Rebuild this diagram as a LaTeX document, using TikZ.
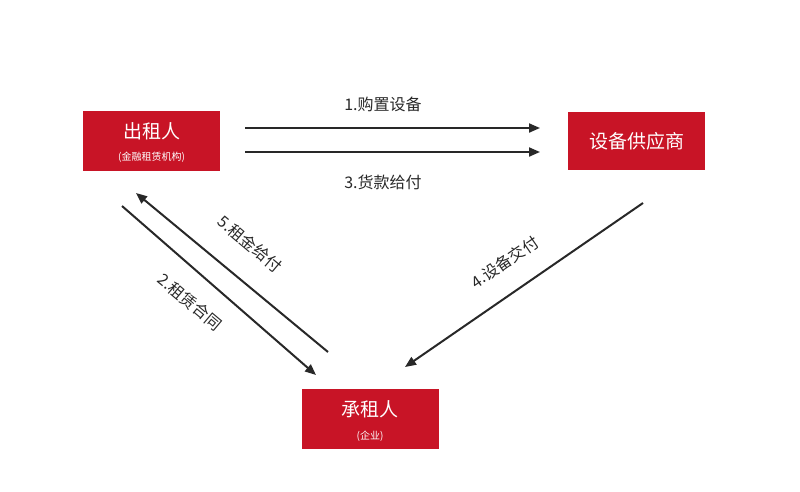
\documentclass[tikz,border=0pt]{standalone}
\usepackage{fontspec}
\setmainfont{Noto Sans CJK SC}
\usetikzlibrary{arrows.meta}
\definecolor{boxred}{RGB}{200,20,38}
\definecolor{lin}{RGB}{40,40,40}
\tikzset{
  redbox/.style={fill=boxred,draw=none,minimum width=137pt,minimum height=60pt,inner sep=0pt},
  conn/.style={draw=lin,line width=2pt,-{Triangle[length=11pt,width=9pt]}},
  lbl/.style={font=\fontsize{16}{18}\selectfont,text=lin}
}
\begin{document}
\begin{tikzpicture}[x=1pt,y=-1pt]
\useasboundingbox (0,0) rectangle (800,491);
\node[redbox] (lessor) at (151.5,141) {};
\node[text=white,font=\fontsize{19}{22}\selectfont] at (151.5,131) {出租人};
\node[text=white,font=\fontsize{10}{12}\selectfont] at (151.5,157) {(金融租赁机构)};
\node[redbox,minimum height=58pt] (supplier) at (636.5,141) {};
\node[text=white,font=\fontsize{19}{22}\selectfont] at (636.5,141) {设备供应商};
\node[redbox] (lessee) at (370,419) {};
\node[text=white,font=\fontsize{19}{22}\selectfont] at (370,409) {承租人};
\node[text=white,font=\fontsize{10}{12}\selectfont] at (370,436) {(企业)};

\coordinate (a1s) at (245,128); \coordinate (a1e) at (540,128);
\coordinate (a3s) at (245,152); \coordinate (a3e) at (540,152);
\draw[conn] (a1s) -- (a1e);
\draw[conn] (a3s) -- (a3e);
\node[lbl] at (383,104) {1.购置设备};
\node[lbl] at (383,182) {3.货款给付};

\coordinate (a5s) at (328,352); \coordinate (a5e) at (136,193);
\coordinate (a2s) at (122,206); \coordinate (a2e) at (316,375);
\draw[conn] (a5s) -- (a5e);
\draw[conn] (a2s) -- (a2e);
\node[lbl,rotate=-40] at (250,244) {5.租金给付};
\node[lbl,rotate=-40] at (190,302) {2.租赁合同};

\coordinate (a4s) at (643,203); \coordinate (a4e) at (405,367);
\draw[conn] (a4s) -- (a4e);
\node[lbl,rotate=34.6] at (505,262) {4.设备交付};
\end{tikzpicture}
\end{document}
